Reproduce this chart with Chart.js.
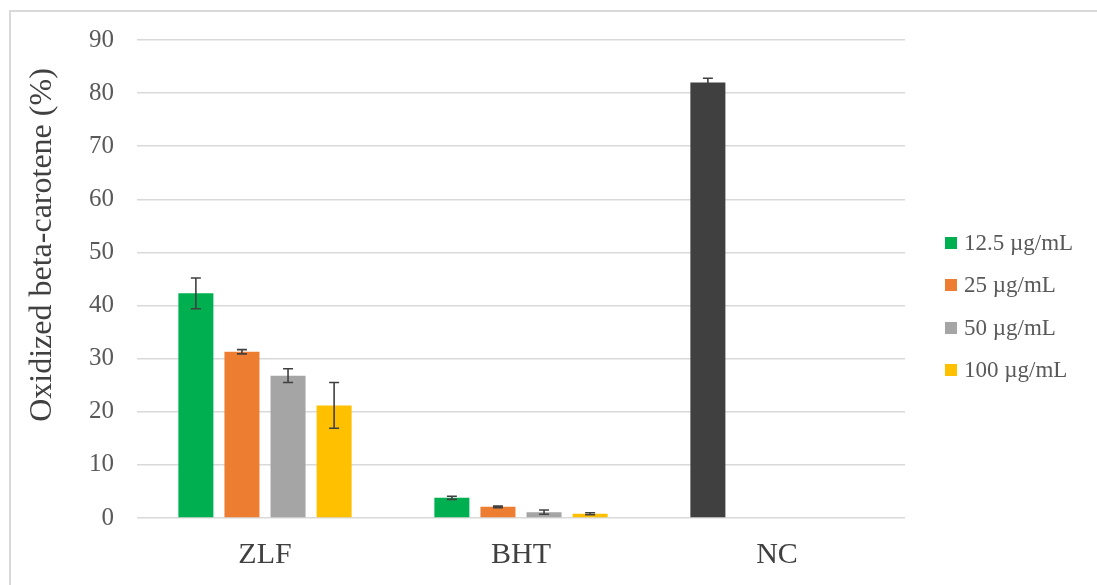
<!DOCTYPE html>
<html>
<head>
<meta charset="utf-8">
<script src="https://cdn.jsdelivr.net/npm/chart.js@4.4.1/dist/chart.umd.min.js"></script>
<style>
  html, body { margin: 0; padding: 0; background: #fff; }
  #wrap { position: relative; width: 1097px; height: 585px; overflow: hidden; }
  #frame { position: absolute; left: 9px; top: 10px; width: 1200px; height: 700px;
    border-left: 2px solid #d9d9d9; border-top: 2px solid #d9d9d9; }
  #oxChart { position: absolute; left: 0; top: 0; }
  #yTitle { position: absolute; left: 40px; top: 245px; width: 400px; height: 32px;
    margin-left: -200px; margin-top: -16px; line-height: 32px; text-align: center;
    transform: rotate(-90deg); font-family: "Liberation Serif", serif; font-size: 32px;
    color: #404040; white-space: nowrap; }
  #legend { position: absolute; left: 945px; top: 222px; font-family: "Liberation Serif", serif;
    font-size: 23px; color: #595959; }
  #legend .item { height: 42.3px; display: flex; align-items: center; white-space: nowrap; }
  #legend .box { width: 12px; height: 12px; margin-right: 7px; flex: none; }
</style>
</head>
<body>
<div id="wrap">
  <div id="frame"></div>
  <canvas id="oxChart" width="1097" height="585"></canvas>
  <div id="yTitle">Oxidized beta-carotene (%)</div>
  <div id="legend"></div>
</div>
<script>
// 산화된 베타카로틴 (%) — 농도별 막대 + 오차막대
const categories = ["ZLF", "BHT", "NC"];
const seriesNames = ["12.5 µg/mL", "25 µg/mL", "50 µg/mL", "100 µg/mL"];
const seriesColors = ["#00b050", "#ed7d31", "#a5a5a5", "#ffc000"];
const ncColor = "#404040";

const conc125 = [42.3, 3.8, 82.0];
const conc25 = [31.3, 2.1, null];
const conc50 = [26.8, 1.1, null];
const conc100 = [21.2, 0.8, null];

const err125 = [2.9, 0.3, 0.8];
const err25 = [0.4, 0.15, 0];
const err50 = [1.3, 0.4, 0];
const err100 = [4.3, 0.2, 0];

const yTicks = [0, 10, 20, 30, 40, 50, 60, 70, 80, 90];

const serif = "'Liberation Serif', 'Times New Roman', serif";
const allValues = [conc125, conc25, conc50, conc100];
const allErrors = [err125, err25, err50, err100];

const errorBarPlugin = {
  id: "errorBars",
  afterDatasetsDraw(chart) {
    const ctx = chart.ctx;
    const y = chart.scales.y;
    ctx.save();
    ctx.strokeStyle = "#404040";
    ctx.lineWidth = 1.6;
    chart.data.datasets.forEach((ds, di) => {
      const meta = chart.getDatasetMeta(di);
      meta.data.forEach((bar, i) => {
        const v = ds.data[i];
        const e = ds.errors[i];
        if (v == null || !e) return;
        const top = y.getPixelForValue(v + e);
        const bot = y.getPixelForValue(v - e);
        const cap = 5;
        ctx.beginPath();
        ctx.moveTo(bar.x, top);
        ctx.lineTo(bar.x, bot);
        ctx.moveTo(bar.x - cap, top);
        ctx.lineTo(bar.x + cap, top);
        ctx.moveTo(bar.x - cap, bot);
        ctx.lineTo(bar.x + cap, bot);
        ctx.stroke();
      });
    });
    ctx.restore();
  },
};

const datasets = seriesNames.map((name, si) => ({
  label: name,
  data: allValues[si],
  errors: allErrors[si],
  backgroundColor: si === 0
    ? categories.map((c) => (c === "NC" ? ncColor : seriesColors[0]))
    : seriesColors[si],
  categoryPercentage: 0.72,
  barPercentage: 0.76,
}));

new Chart(document.getElementById("oxChart"), {
  type: "bar",
  data: { labels: categories, datasets },
  plugins: [errorBarPlugin],
  options: {
    responsive: false,
    animation: false,
    layout: { padding: { left: 10, top: 40, right: 192, bottom: 5 } },
    plugins: { legend: { display: false }, tooltip: { enabled: false } },
    scales: {
      x: {
        grid: { display: false },
        border: { display: false },
        ticks: { color: "#404040", padding: 11, font: { family: serif, size: 30 } },
        afterFit(scale) { scale.height = 62; },
      },
      y: {
        min: 0,
        max: 90,
        afterBuildTicks(scale) { scale.ticks = yTicks.map((v) => ({ value: v })); },
        grid: { color: "#d9d9d9", lineWidth: 1.6, drawTicks: false },
        border: { display: false },
        ticks: { color: "#595959", padding: 23, font: { family: serif, size: 25 } },
        afterFit(scale) { scale.width = 127; },
      },
    },
  },
});

const legendEl = document.getElementById("legend");
seriesNames.forEach((name, si) => {
  const item = document.createElement("div");
  item.className = "item";
  const box = document.createElement("span");
  box.className = "box";
  box.style.background = seriesColors[si];
  const txt = document.createElement("span");
  txt.textContent = name;
  item.appendChild(box);
  item.appendChild(txt);
  legendEl.appendChild(item);
});
</script>
</body>
</html>
